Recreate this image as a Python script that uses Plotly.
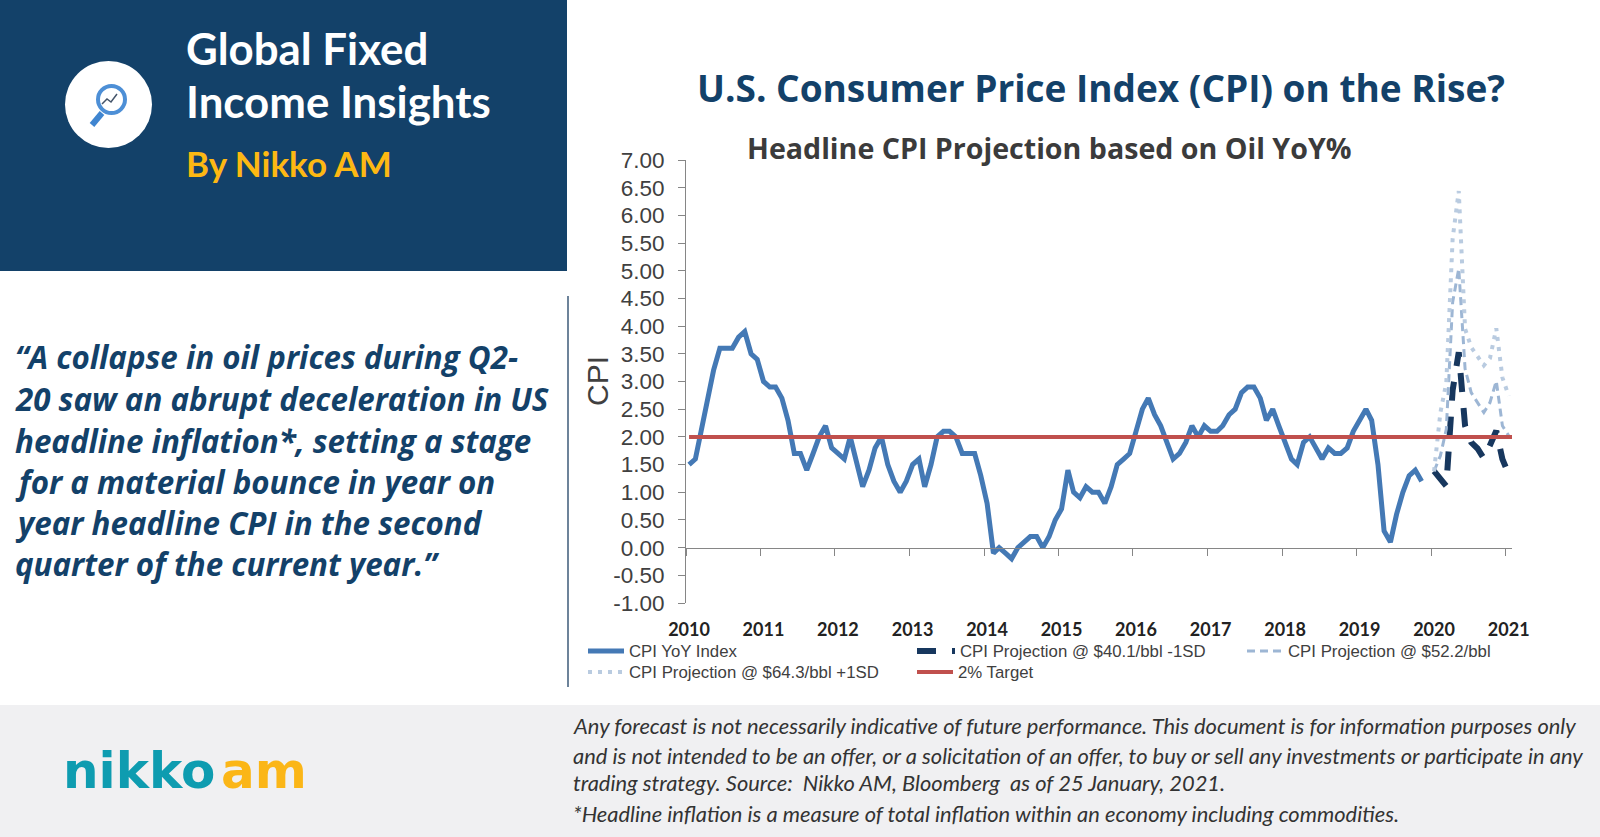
import pandas as pd
import plotly.graph_objects as go

W = 1600
H = 837

# monthly readings, first point sits at the "2010" tick
cpi_yoy = [1.5, 1.6, 2.1, 2.7, 3.2, 3.6, 3.6, 3.6, 3.8, 3.9, 3.5, 3.4,
           3.0, 2.9, 2.9, 2.7, 2.3, 1.7, 1.7, 1.4, 1.7, 2.0, 2.2, 1.8,
           1.7, 1.6, 2.0, 1.5, 1.1, 1.4, 1.8, 2.0, 1.5, 1.2, 1.0, 1.2,
           1.5, 1.6, 1.1, 1.5, 2.0, 2.1, 2.1, 2.0, 1.7, 1.7, 1.7, 1.3,
           0.8, -0.1, 0.0, -0.1, -0.2, 0.0, 0.1, 0.2, 0.2, 0.0, 0.2, 0.5,
           0.7, 1.4, 1.0, 0.9, 1.1, 1.0, 1.0, 0.8, 1.1, 1.5, 1.6, 1.7,
           2.1, 2.5, 2.7, 2.4, 2.2, 1.9, 1.6, 1.7, 1.9, 2.2, 2.0, 2.2,
           2.1, 2.1, 2.2, 2.4, 2.5, 2.8, 2.9, 2.9, 2.7, 2.3, 2.5, 2.2,
           1.9, 1.6, 1.5, 1.9, 2.0, 1.8, 1.6, 1.8, 1.7, 1.7, 1.8, 2.1,
           2.3, 2.5, 2.3, 1.5, 0.3, 0.1, 0.6, 1.0, 1.3, 1.4, 1.2]
proj_low = [1.38, 1.22, 1.11, 2.84, 3.53, 2.20, 1.90, 1.79, 1.61, 1.85, 2.11, 1.60, 1.32]
proj_mid = [1.38, 1.66, 2.14, 4.43, 5.04, 3.23, 2.80, 2.62, 2.44, 2.62, 3.01, 2.20, 2.02]
proj_high = [1.38, 2.44, 2.98, 5.58, 6.44, 3.95, 3.62, 3.46, 3.29, 3.42, 3.96, 3.07, 2.74]
target = [2.0] * 134

y_ticks = [7, 6.5, 6, 5.5, 5, 4.5, 4, 3.5, 3, 2.5, 2, 1.5, 1, 0.5, 0, -0.5, -1]
y_labels = ["7.00", "6.50", "6.00", "5.50", "5.00", "4.50", "4.00", "3.50", "3.00",
            "2.50", "2.00", "1.50", "1.00", "0.50", "0.00", "-0.50", "-1.00"]

quote_lines = ["“A collapse in oil prices during Q2-",
               "20 saw an abrupt deceleration in US",
               "headline inflation*, setting a stage",
               "for a material bounce in year on",
               "year headline CPI in the second",
               "quarter of the current year.”"]
note_lines = ["Any forecast is not necessarily indicative of future performance. This document is for information purposes only",
              "and is not intended to be an offer, or a solicitation of an offer, to buy or sell any investments or participate in any",
              "trading strategy. Source:  Nikko AM, Bloomberg  as of 25 January, 2021.",
              "*Headline inflation is a measure of total inflation within an economy including commodities."]

NAVY = "#134169"
GOLD = "#fdb813"
DARK = "#17375e"
BLUE = "#4479b5"
RED = "#c0504d"
SANS = "Liberation Sans"

# mid month, so the points sit between the yearly ticks
dates = pd.date_range("2010-01-01", periods=len(target), freq="MS") + pd.Timedelta(days=15)
proj_dates = dates[120:133]


def px(x):
    return x / W


def py(y):
    return 1 - y / H


def key(x, y, width):
    return dict(x=px(x), y=py(y), xanchor="left", yanchor="middle", itemwidth=width, bgcolor="rgba(0,0,0,0)",
                borderwidth=0, font=dict(size=16.8, color="#404040", family=SANS))


fig = go.Figure()
fig.add_trace(go.Scatter(x=dates[:len(cpi_yoy)], y=cpi_yoy, mode="lines", name="CPI YoY Index", legend="legend",
                         showlegend=True, line=dict(color=BLUE, width=5)))
fig.add_trace(go.Scatter(x=proj_dates, y=proj_low, mode="lines", name="CPI Projection @ $40.1/bbl -1SD", legend="legend2",
                         showlegend=True, line=dict(color=DARK, width=6, dash="19px,16px")))
fig.add_trace(go.Scatter(x=proj_dates, y=proj_mid, mode="lines", name="CPI Projection @ $52.2/bbl", legend="legend3",
                         showlegend=True, line=dict(color="#9db6d4", width=3, dash="8px,5px")))
fig.add_trace(go.Scatter(x=proj_dates, y=proj_high, mode="lines", name="CPI Projection @ $64.3/bbl +1SD", legend="legend4",
                         showlegend=True, line=dict(color="#b9cbe0", width=4, dash="4px,6px")))
fig.add_trace(go.Scatter(x=dates, y=target, mode="lines", name="2% Target", legend="legend5",
                         showlegend=True, line=dict(color=RED, width=4)))
# empty trace so the page-sized helper axes exist, the texts hang on them
fig.add_trace(go.Scatter(x=[None], y=[None], xaxis="x2", yaxis="y2", showlegend=False, hoverinfo="skip"))

shapes = [
    dict(type="rect", x0=0, x1=px(567), y0=py(0), y1=py(271), fillcolor=NAVY),
    dict(type="rect", x0=0, x1=1, y0=py(705), y1=0, fillcolor="#f0f0f2"),
    dict(type="line", x0=px(568), x1=px(568), y0=py(296), y1=py(687), line=dict(color="#3d5a78", width=1.5)),
    # magnifier icon
    dict(type="circle", x0=px(65), x1=px(152), y0=py(61), y1=py(148), fillcolor="white"),
    dict(type="circle", x0=px(98), x1=px(125), y0=py(86), y1=py(113), line=dict(color="#4d8fd6", width=4)),
    dict(type="line", x0=px(102), x1=px(92), y0=py(113), y1=py(125), line=dict(color="#3f85d0", width=6)),
    dict(type="path", path=f"M {px(102)} {py(104)} L {px(107)} {py(99)} L {px(111)} {py(102)} L {px(117)} {py(94)}",
         line=dict(color="#44546a", width=1.5)),
]
for s in shapes:
    s.update(xref="paper", yref="paper", layer="below")
    if "line" not in s:
        s["line"] = dict(width=0)


def label(text, x, y, size, color, family="Lato", weight=400, style="normal", anchor="left", angle=0):
    fig.add_annotation(text=text, x=x, y=y, xref="x2", yref="y2", xanchor=anchor, yanchor="middle",
                       showarrow=False, textangle=angle,
                       font=dict(size=size, color=color, family=family, weight=weight, style=style))


label("Global Fixed", 184, 48, 43.8, "white", weight=700)
label("Income Insights", 184, 101, 43.8, "white", weight=700)
label("By Nikko AM", 184, 163, 35, GOLD, weight=700)

for i, line in enumerate(quote_lines):
    label(line, 13, [357, 399, 441, 482, 523, 564][i], 31.3, NAVY, family="Open Sans", weight=700, style="italic")
for i, line in enumerate(note_lines):
    label(line, 571, [725, 755, 782, 813][i], 21.9, "#333333", style="italic")

label("Headline CPI Projection based on Oil YoY%", 745, 147, 28.6, "#3b3b3b", family="Open Sans", weight=700)
label("CPI", 597, 381, 30, "#404040", family=SANS, angle=-90, anchor="center")
label("nikko", 61, 771, 50, "#0e9cb0", family="DejaVu Sans", weight=700)
label("am", 219, 771, 50, "#fbb617", family="DejaVu Sans", weight=700)

fig.update_layout(
    width=W, height=H, margin=dict(l=0, r=0, t=0, b=0),
    paper_bgcolor="white", plot_bgcolor="rgba(0,0,0,0)", shapes=shapes,
    title=dict(text="U.S. Consumer Price Index (CPI) on the Rise?", x=px(697), xanchor="left",
               y=py(89), yanchor="middle",
               font=dict(size=37, color=NAVY, family="Open Sans", weight=700)),
    xaxis=dict(domain=[px(686), px(1512)], anchor="free", position=0.3455, automargin=False,
               range=["2010-01-01", "2021-02-01"], tick0="2010-01-01", dtick="M12", tickformat="%Y",
               showgrid=False, zeroline=False, showline=True, linecolor="#868686", linewidth=1,
               ticks="outside", ticklen=7, tickcolor="#868686", ticklabelstandoff=59, ticklabelshift=3,
               tickfont=dict(size=18, color="#222222", family="Lato", weight=700)),
    yaxis=dict(domain=[py(603), py(160)], range=[-1, 7], tickmode="array", tickvals=y_ticks, ticktext=y_labels,
               automargin=False, ticklabelstandoff=9,
               showgrid=False, zeroline=False, showline=True, linecolor="#868686", linewidth=1,
               ticks="outside", ticklen=7, tickcolor="#868686",
               tickfont=dict(size=22.5, color="#404040", family=SANS)),
    xaxis2=dict(domain=[0, 1], range=[0, W], anchor="y2", visible=False, automargin=False),
    yaxis2=dict(domain=[0, 1], range=[H, 0], anchor="x2", visible=False, automargin=False),
    legend=key(583, 651, 36),
    legend2=key(912, 651, 38),
    legend3=key(1242, 651, 36),
    legend4=key(583, 672, 36),
    legend5=key(912, 672, 36),
)

fig.write_html("out.html", config=dict(displayModeBar=False),
               post_script="document.body.style.margin='0';document.body.style.overflow='hidden';")
